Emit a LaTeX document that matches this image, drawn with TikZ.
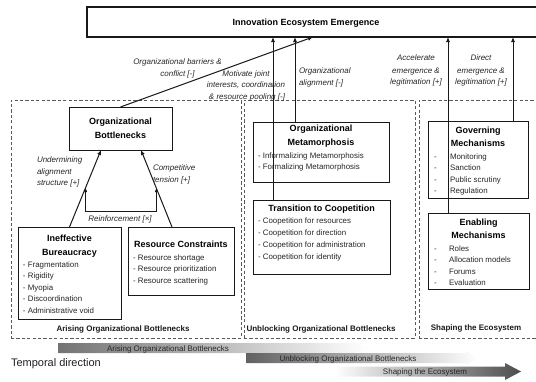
\documentclass[tikz,border=0pt]{standalone}
\usepackage{fontspec}
\setmainfont{Liberation Sans}
\usetikzlibrary{arrows.meta,calc}
\definecolor{ln}{gray}{0.1}
\definecolor{tx}{gray}{0.15}
\definecolor{dsh}{gray}{0.35}
\tikzset{
  every node/.style={inner sep=0pt, outer sep=0pt},
  box/.style={draw=ln, line width=1pt, rectangle, anchor=north west},
  region/.style={draw=dsh, line width=1pt, dash pattern=on 3.2pt off 2.2pt, rectangle, anchor=north west},
  ttl/.style={font=\fontsize{9}{10}\selectfont\bfseries, text=black, anchor=base},
  rtl/.style={font=\fontsize{8}{9}\selectfont\bfseries, text=black!90, anchor=base},
  itm/.style={font=\fontsize{7.9}{9}\selectfont, text=tx, anchor=base west},
  lbl/.style={font=\fontsize{8}{9}\selectfont\itshape, text=tx},
  barlbl/.style={font=\fontsize{8}{9}\selectfont, text=black!85, anchor=base},
  arr/.style={draw=ln, line width=1pt, -{Latex[length=5pt,width=4.2pt]}},
}
\begin{document}
\begin{tikzpicture}[x=1pt,y=-1pt]
\useasboundingbox (0,0) rectangle (536,381);

% ---- regions
\node[region, minimum width=230pt, minimum height=238pt] (rgA) at (11,100) {};
\node[region, minimum width=171pt, minimum height=238pt] (rgB) at (244,100) {};
\node[region, minimum width=130pt, minimum height=238pt] (rgC) at (419,100) {};
\node[rtl] (rgAt) at (123,331) {Arising Organizational Bottlenecks};
\node[rtl] (rgBt) at (321,331) {Unblocking Organizational Bottlenecks};
\node[rtl] (rgCt) at (476,330.5) {Shaping the Ecosystem};

% ---- top box
\node[box, line width=1.1pt, minimum width=460pt, minimum height=30pt] (top) at (87,7) {};
\node[ttl] (topt) at (306,25.5) {Innovation Ecosystem Emergence};

% ---- organizational bottlenecks
\node[box, minimum width=103pt, minimum height=43pt] (ob) at (69,107) {};
\node[ttl] (obt1) at (120.5,124) {Organizational};
\node[ttl] (obt2) at (120.5,138) {Bottlenecks};

% ---- ineffective bureaucracy
\node[box, minimum width=103pt, minimum height=92pt] (ib) at (18,227) {};
\node[ttl] (ibt1) at (69.5,241.5) {Ineffective};
\node[ttl] (ibt2) at (69.5,255.5) {Bureaucracy};
\foreach \t [count=\i] in {Fragmentation,Rigidity,Myopia,Discoordination,Administrative void}
  \node[itm] (ibi\i) at (23,{255.5+11.5*\i}) {- \t};

% ---- resource constraints
\node[box, minimum width=106pt, minimum height=68pt] (rc) at (128,227) {};
\node[ttl] (rct) at (181,247.5) {Resource Constraints};
\foreach \t [count=\i] in {Resource shortage,Resource prioritization,Resource scattering}
  \node[itm] (rci\i) at (133,{248.5+11.5*\i}) {- \t};

% ---- organizational metamorphosis
\node[box, minimum width=136pt, minimum height=60pt] (om) at (253,122) {};
\node[ttl] (omt1) at (321,131.5) {Organizational};
\node[ttl] (omt2) at (321,145.5) {Metamorphosis};
\foreach \t [count=\i] in {Informalizing Metamorphosis,Formalizing Metamorphosis}
  \node[itm] (omi\i) at (258,{146.5+11.5*\i}) {- \t};

% ---- transition to coopetition
\node[box, minimum width=137pt, minimum height=74pt] (tc) at (253,200) {};
\node[ttl] (tct) at (321.5,211.5) {Transition to Coopetition};
\foreach \t [count=\i] in {Coopetition for resources,Coopetition for direction,Coopetition for administration,Coopetition for identity}
  \node[itm] (tci\i) at (258,{212+11.8*\i}) {- \t};

% ---- governing mechanisms
\node[box, minimum width=100pt, minimum height=77pt] (gm) at (428,121) {};
\node[ttl] (gmt1) at (478,133.5) {Governing};
\node[ttl] (gmt2) at (478,146.5) {Mechanisms};
\foreach \t [count=\i] in {Monitoring,Sanction,Public scrutiny,Regulation}{
  \node[itm] (gmd\i) at (434,{147.5+11.5*\i}) {-};
  \node[itm] (gmi\i) at (450,{147.5+11.5*\i}) {\t};
}

% ---- enabling mechanisms
\node[box, minimum width=101pt, minimum height=76pt] (em) at (428,213) {};
\node[ttl] (emt1) at (478.5,225.5) {Enabling};
\node[ttl] (emt2) at (478.5,238.5) {Mechanisms};
\foreach \t [count=\i] in {Roles,Allocation models,Forums,Evaluation}{
  \node[itm] (emd\i) at (434,{239.5+11.6*\i}) {-};
  \node[itm] (emi\i) at (449,{239.5+11.6*\i}) {\t};
}

% ---- helper coordinates for connector x positions
\coordinate (xa) at (313,0);
\coordinate (xb) at (273,0);
\coordinate (xc) at (295,0);
\coordinate (xd) at (448,0);
\coordinate (xe) at (513,0);
\coordinate (xf) at (101,0);
\coordinate (xg) at (141,0);
\coordinate (xh) at (172,0);
\coordinate (ra) at (85.6,188);
\coordinate (rb) at (156.4,188);

% ---- connectors to the top box
\draw[arr] (ob.north) -- (top.south -| xa);
\draw[arr] (tc.north -| xb) -- (top.south -| xb);
\draw[arr] (om.north -| xc) -- (top.south -| xc);
\draw[arr] (em.north -| xd) -- (top.south -| xd);
\draw[arr] (gm.north -| xe) -- (top.south -| xe);

% ---- connectors in the left region
\draw[arr] (ib.north) -- (ob.south -| xf);
\draw[arr] (rc.north -| xh) -- (ob.south -| xg);
\draw[draw=ln, line width=0.9pt, {Latex[length=4pt,width=3.5pt]}-{Latex[length=4pt,width=3.5pt]}]
  (ra) -- ++(0,23) -| (rb);

% ---- connector labels
\node[lbl, anchor=base] (l1a) at (177.5,64) {Organizational barriers \&};
\node[lbl, anchor=base] (l1b) at (177.5,76) {conflict [-]};
\node[lbl, anchor=base] (l2a) at (246,76) {Motivate joint};
\node[lbl, anchor=base] (l2b) at (246,87.5) {interests, coordination};
\node[lbl, anchor=base] (l2c) at (247,99) {\& resource pooling [-]};
\node[lbl, anchor=base west] (l3a) at (299,73) {Organizational};
\node[lbl, anchor=base west] (l3b) at (299,85) {alignment [-]};
\node[lbl, anchor=base] (l4a) at (416,60) {Accelerate};
\node[lbl, anchor=base] (l4b) at (416,73) {emergence \&};
\node[lbl, anchor=base] (l4c) at (416,84.5) {legitimation [+]};
\node[lbl, anchor=base] (l5a) at (481,60) {Direct};
\node[lbl, anchor=base] (l5b) at (481,73) {emergence \&};
\node[lbl, anchor=base] (l5c) at (481,84.5) {legitimation [+]};
\node[lbl, anchor=base west] (l6a) at (37,162) {Undermining};
\node[lbl, anchor=base west] (l6b) at (37,174) {alignment};
\node[lbl, anchor=base west] (l6c) at (37,185.5) {structure [+]};
\node[lbl, anchor=base west] (l7a) at (153,170) {Competitive};
\node[lbl, anchor=base west] (l7b) at (153,182) {tension [+]};
\node[lbl, anchor=base] (l8) at (120,221) {Reinforcement [×]};

% ---- temporal direction bars
\shade[left color=black!55, right color=white]
  (58,343) -- (354,343) -- (354,341.5) -- (367,348) -- (354,354.5) -- (354,353) -- (58,353) -- cycle;
\shade[left color=black!62, right color=white]
  (246,353) -- (466,353) -- (466,351) -- (478,358) -- (466,365) -- (466,363) -- (246,363) -- cycle;
\shade[left color=white, right color=black!70]
  (335,366.5) -- (505,366.5) -- (505,363) -- (521,371.5) -- (505,380) -- (505,376.5) -- (335,376.5) -- cycle;
\node[barlbl] (b1) at (168,351) {Arising Organizational Bottlenecks};
\node[barlbl] (b2) at (348,361) {Unblocking Organizational Bottlenecks};
\node[barlbl] (b3) at (425,374.5) {Shaping the Ecosystem};
\node[font=\fontsize{11}{12}\selectfont, text=black!88, anchor=base west] (td) at (11,366) {Temporal direction};
\end{tikzpicture}
\end{document}
